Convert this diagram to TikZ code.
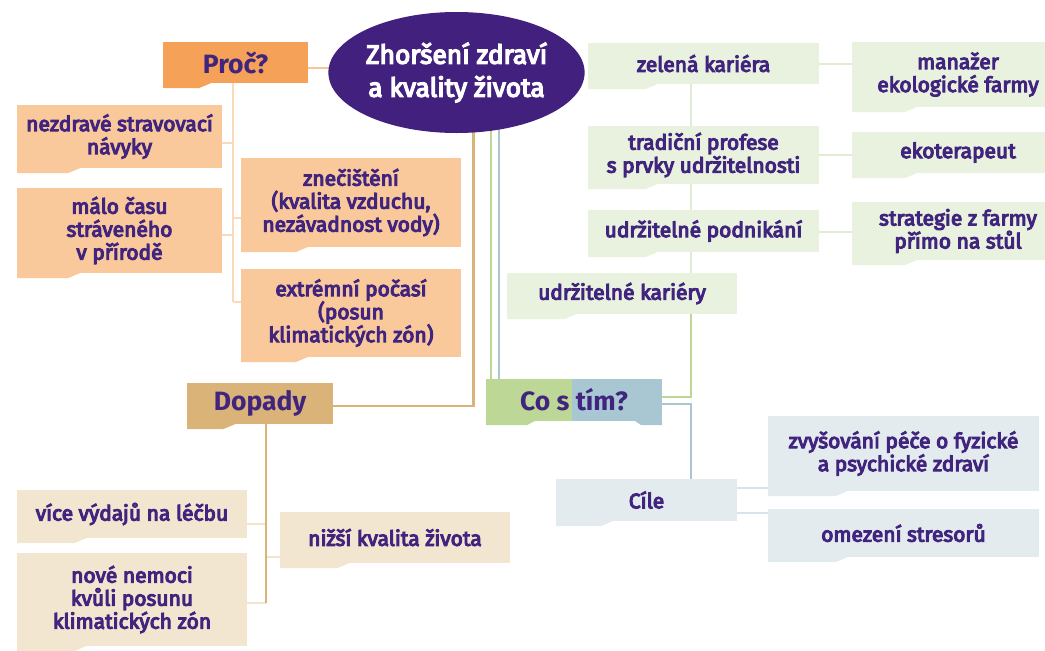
\documentclass[tikz,border=0pt]{standalone}
\usepackage{fontspec}
\setmainfont{Fira Sans}
\newfontfamily\medf{Fira Sans}[FakeBold=5]
\newfontfamily\ellf{Fira Sans}[FakeBold=5]
\usetikzlibrary{shapes.geometric}
\pgfdeclarelayer{bg}
\pgfsetlayers{bg,main}
\definecolor{txtc}{RGB}{64,36,126}
\definecolor{ellc}{RGB}{66,32,126}
\definecolor{procc}{RGB}{245,161,88}
\definecolor{procl}{RGB}{249,200,155}
\definecolor{proclineA}{RGB}{249,196,150}
\definecolor{proclineB}{RGB}{250,218,188}
\definecolor{dopc}{RGB}{217,179,120}
\definecolor{dopl}{RGB}{243,230,209}
\definecolor{doplineB}{RGB}{243,228,206}
\definecolor{grc}{RGB}{189,216,150}
\definecolor{grl}{RGB}{232,242,222}
\definecolor{grlineB}{RGB}{224,237,211}
\definecolor{blc}{RGB}{168,199,210}
\definecolor{bll}{RGB}{227,235,238}
\definecolor{bllineB}{RGB}{216,228,233}
\tikzset{
  body/.style={rectangle, inner sep=0pt, align=center, text=txtc,
    font=\medf\fontsize{21}{23}\selectfont},
  title/.style={rectangle, inner sep=0pt, align=center, text=txtc,
    font=\bfseries\fontsize{26.5}{30}\selectfont},
  conn/.style={line width=2.5pt},
}
% #1 node style, #2 name, #3 x0, #4 y0, #5 x1, #6 y1, #7 colour, #8 text
\newcommand\tbox[8][body]{%
  \fill[#7] (#3,#4) rectangle (#5,#6);
  \fill[#7] (#3,#6) -- ({#3+0.25*(#5-#3)+12},#6) -- ({#3+0.25*(#5-#3)},{#6+5}) -- (#3,{#6+5}) -- cycle;
  \node[#1, minimum width={(#5-#3)*1pt}, minimum height={(#6-#4)*1pt}] (#2) at ({(#3+#5)/2},{(#4+#6)/2}) {#8};
}
\begin{document}
\begin{tikzpicture}[x=1pt,y=-1pt]
\useasboundingbox (0,0) rectangle (1045,651);
\clip (0,0) rectangle (1045,651);

% central ellipse
\node[ellipse, fill=ellc, minimum width=232pt, minimum height=121pt, inner sep=0pt,
  text=white, align=center, font=\ellf\fontsize{26.3}{33}\selectfont]
  (ell) at (456.5,72.5) {Zhoršení zdraví\\a kvality života};

% Proč branch
\tbox[title]{proc}{163}{42}{308}{83}{procc}{Proč?}
\tbox{nez}{17}{105}{222}{168}{procl}{nezdravé stravovací\\návyky}
\tbox{malo}{17}{188}{222}{273}{procl}{málo času\\stráveného\\v přírodě}
\tbox{znec}{241}{158}{461}{247}{procl}{znečištění\\(kvalita vzduchu,\\nezávadnost vody)}
\tbox{ext}{241}{269}{461}{357}{procl}{extrémní počasí\\(posun\\klimatických zón)}

% Dopady branch
\tbox[title]{dop}{187}{383}{333}{424}{dopc}{Dopady}
\tbox{vyd}{17}{490}{247}{538}{dopl}{více výdajů na léčbu}
\tbox{nove}{17}{553}{247}{646}{dopl}{nové nemoci\\kvůli posunu\\klimatických zón}
\tbox{niz}{280}{512}{510}{563}{dopl}{nižší kvalita života}

% Co s tím
\fill[grc] (486,379) rectangle (572,421);
\fill[grc] (486,421) -- (535,421) -- (527,425) -- (486,425) -- cycle;
\fill[blc] (572,379) rectangle (662,421);
\fill[blc] (662,421) -- (635,421) -- (641,425) -- (662,425) -- cycle;
\node[title, minimum width=176pt, minimum height=42pt] (cos) at (574,400) {Co s tím?};

% green branch
\tbox{zel}{588}{43}{819}{84}{grl}{zelená kariéra}
\tbox{tra}{588}{126}{819}{184}{grl}{tradiční profese\\s prvky udržitelnosti}
\tbox{pod}{588}{210}{819}{252}{grl}{udržitelné podnikání}
\tbox{kar}{507}{273}{737}{314}{grl}{udržitelné kariéry}
\tbox{man}{852}{42}{1064}{107}{grl}{manažer\\ekologické farmy}
\tbox{eko}{852}{132}{1064}{173}{grl}{ekoterapeut}
\tbox{str}{852}{202}{1064}{260}{grl}{strategie z farmy\\přímo na stůl}

% blue branch
\tbox{cile}{556}{479}{737}{521}{bll}{Cíle}
\tbox{zvy}{768}{416}{1039}{491}{bll}{zvyšování péče o fyzické\\a psychické zdraví}
\tbox{ome}{768}{509}{1039}{557}{bll}{omezení stresorů}

\begin{pgfonlayer}{bg}
  % Proč connectors
  \coordinate (pv) at (233,302);
  \draw[conn, proclineA] (proc.east |- 0,68) -- (ell.center |- 0,68);
  \draw[conn, proclineB] (nez.east |- 0,143) -- (pv |- 0,143);
  \draw[conn, proclineB] (malo.east |- 0,235) -- (pv |- 0,235);
  \draw[conn, proclineB] (znec.west |- 0,218) -- (pv |- 0,218);
  \draw[conn, proclineB] (ext.west |- pv) -- (pv);
  \draw[conn, proclineB] (proc.south -| pv) -- (pv);
  % Dopady connectors
  \coordinate (dv) at (266,603);
  \draw[conn, dopc] (dop.east |- 0,406) -| ([xshift=17pt]ell.center);
  \draw[conn, doplineB] (vyd.east |- 0,524) -- (dv |- 0,524);
  \draw[conn, doplineB] (niz.west |- 0,557) -- (dv |- 0,557);
  \draw[conn, doplineB] (nove.east |- dv) -- (dv);
  \draw[conn, dopc] (dop.south -| dv) -- (dv);
  % Co s tím connectors
  \draw[conn, grc] (ell.center -| 491,0) -- (cos.north -| 491,0);
  \draw[conn, blc] (ell.center -| 499,0) -- (cos.north -| 499,0);
  \draw[conn, grlineB] (zel.south -| 691,0) -- (kar.north -| 691,0);
  \draw[conn, grlineB] (zel.east |- 0,64) -- (man.west |- 0,64);
  \draw[conn, grlineB] (tra.east |- 0,155) -- (eko.west |- 0,155);
  \draw[conn, grlineB] (pod.east |- 0,232) -- (str.west |- 0,232);
  \draw[conn, grc] (kar.south -| 691,0) |- (cos.east |- 0,397);
  \draw[conn, blc] (cos.east |- 0,404) -| (cile.north -| 691,0);
  \draw[conn, bllineB] (cile.east |- 0,488) -- (zvy.west |- 0,488);
  \draw[conn, bllineB] (cile.east |- 0,513) -- (ome.west |- 0,513);
\end{pgfonlayer}
\end{tikzpicture}
\end{document}
